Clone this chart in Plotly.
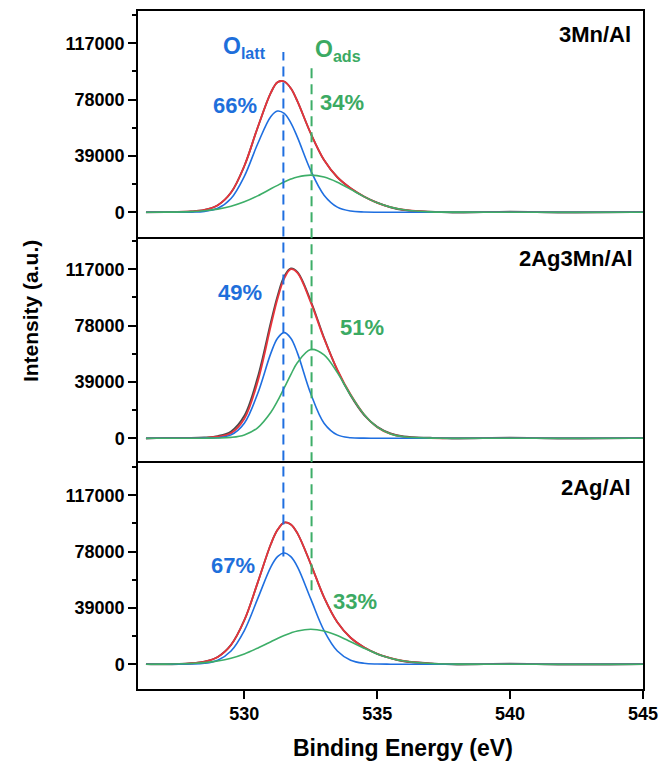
import plotly.graph_objects as go
from plotly.subplots import make_subplots

# ---------------- data ----------------
binding_energy = [526.3, 527, 528, 528.5, 529, 529.5, 530, 530.5, 531, 531.25, 531.5, 531.75,
                  532, 532.5, 533, 533.5, 534, 534.5, 535, 535.5, 536, 537, 538, 540, 542, 545]

# panel 1: 3Mn/Al
raw_3Mn = [-150, 100, 520, 1560, 4800, 13600, 32000, 58500, 82800, 90000, 90500, 85800,
           76700, 54500, 36100, 24200, 16600, 10900, 6600, 3400, 1500, 400, -300, 350, -250, 200]
fit_3Mn = [5, 54, 500, 1540, 4780, 13590, 31970, 58500, 82800, 90000, 90500, 85800,
           76700, 54500, 36100, 24230, 16580, 10925, 6500, 3500, 1700, 250, 30, 0, 0, 0]
olatt_3Mn = [0, 0, 84, 555, 2670, 9500, 24800, 47200, 66300, 70050, 68400, 61900,
             51800, 28800, 11800, 3530, 780, 125, 0, 0, 0, 0, 0, 0, 0, 0]
oads_3Mn = [5, 54, 415, 985, 2110, 4090, 7170, 11300, 16200, 18600, 20900, 22900,
            24400, 25700, 24300, 20700, 15800, 10800, 6500, 3500, 1700, 250, 30, 0, 0, 0]

# panel 2: 2Ag3Mn/Al
raw_2Ag3Mn = [-300, 200, 150, 500, 1500, 4700, 15500, 42000, 80500, 98500, 112000, 117500,
              115000, 95000, 69500, 47000, 29500, 16200, 8000, 3400, 1300, 300, -250, 300, -300, 200]
fit_2Ag3Mn = [0, 0, 40, 200, 1000, 3500, 13500, 39000, 78000, 96500, 110500, 117000,
              114500, 94000, 69000, 47500, 30200, 16600, 7640, 2970, 965, 60, 0, 0, 0, 0]
olatt_2Ag3Mn = [0, 0, 0, 30, 330, 2290, 10400, 30800, 58900, 69200, 73100, 69200,
                58900, 30800, 10400, 2290, 330, 30, 0, 0, 0, 0, 0, 0, 0, 0]
oads_2Ag3Mn = [0, 0, 0, 16, 105, 555, 2270, 7230, 18000, 25800, 34800, 44000,
               52400, 61400, 57700, 45400, 29900, 16600, 7640, 2970, 965, 60, 0, 0, 0, 0]

# panel 3: 2Ag/Al
raw_2Ag = [150, -100, 650, 1750, 5050, 13350, 30450, 56300, 83200, 93000, 98000, 96800,
           90600, 69350, 46300, 29060, 18330, 11800, 7200, 4250, 2050, 600, -200, 300, -300, 150]
fit_2Ag = [6, 66, 573, 1700, 4990, 13320, 30430, 56300, 83200, 93000, 98000, 96800,
           90600, 69350, 46300, 29060, 18330, 11740, 7240, 4175, 2210, 460, 66, 0, 0, 0]
olatt_2Ag = [0, 0, 113, 640, 2780, 9160, 23300, 45200, 67400, 74450, 77000, 74450,
             67400, 45200, 23300, 9160, 2780, 640, 113, 15, 0, 0, 0, 0, 0, 0]
oads_2Ag = [6, 66, 460, 1060, 2210, 4160, 7130, 11100, 15550, 17800, 19900, 21630,
            23000, 24150, 23000, 19900, 15550, 11100, 7130, 4160, 2210, 460, 66, 0, 0, 0]

sample_names = ["3Mn/Al", "2Ag3Mn/Al", "2Ag/Al"]
olatt_percent = ["66%", "49%", "67%"]
oads_percent = ["34%", "51%", "33%"]
peak_positions = [531.47, 532.53]  # O_latt, O_ads reference lines

y_tickvals = [0, 39000, 78000, 117000]
y_ticktext = ["0", "39000", "78000", "117000"]
y_minor = [19500, 58500, 97500, 136500]
x_tickvals = [530, 535, 540, 545]
x_ticktext = ["530", "535", "540", "545"]

# ---------------- styling ----------------
FONT = "Liberation Sans, Arial, sans-serif"
BLUE = "#1F6FE0"
GREEN = "#3DAE68"
RED = "#E8333B"
GRAY = "#4a4a4a"
BLUE_T = "#1E6FDB"
GREEN_T = "#3BAA63"

W, H = 669, 769
OFF = 8  # page body margin
ML, MR, MT, MB = 130, 34, 1, 88
PW, PH = W - ML - MR, H - MT - MB


def px(xp):
    return (xp - OFF - ML) / PW


def py(yp):
    return (H - MB - (yp - OFF)) / PH


fig = make_subplots(rows=3, cols=1, shared_xaxes=True, vertical_spacing=0)

panels = [
    (raw_3Mn, fit_3Mn, olatt_3Mn, oads_3Mn),
    (raw_2Ag3Mn, fit_2Ag3Mn, olatt_2Ag3Mn, oads_2Ag3Mn),
    (raw_2Ag, fit_2Ag, olatt_2Ag, oads_2Ag),
]

for i, (raw, fit, olatt, oads) in enumerate(panels):
    r = i + 1
    for ys, col, w in [(raw, GRAY, 1.8), (fit, RED, 1.8), (olatt, BLUE, 1.6), (oads, GREEN, 1.6)]:
        fig.add_trace(go.Scatter(x=binding_energy, y=ys, mode="lines",
                                 line=dict(color=col, width=w, shape="spline", smoothing=1.0),
                                 showlegend=False, hoverinfo="skip"), row=r, col=1)

tickfont = dict(family=FONT, size=18, color="black", weight="bold")

for r in range(1, 4):
    fig.update_yaxes(row=r, col=1, range=[-17170, 139300], tickmode="array",
                     tickvals=y_tickvals, ticktext=y_ticktext, ticks="outside",
                     ticklen=8, tickwidth=1.5, tickcolor="black",
                     minor=dict(tickmode="array", tickvals=y_minor, ticks="outside",
                                ticklen=4, tickwidth=1.5, tickcolor="black", showgrid=False),
                     showline=True, mirror=True, linecolor="black", linewidth=1.5,
                     showgrid=False, zeroline=False, tickfont=tickfont)
    fig.update_xaxes(row=r, col=1, range=[526, 545], showline=(r != 2), mirror=True,
                     linecolor="black", linewidth=1.5, showgrid=False, zeroline=False)

fig.update_xaxes(row=3, col=1, tickmode="array", tickvals=x_tickvals, ticktext=x_ticktext,
                 ticks="outside", ticklen=8, tickwidth=1.5, tickcolor="black",
                 tickfont=tickfont, showticklabels=True)
fig.update_xaxes(row=1, col=1, ticks="", showticklabels=False)
fig.update_xaxes(row=2, col=1, ticks="", showticklabels=False)

# dashed reference lines spanning the panels
fig.add_shape(type="line", xref="x3", yref="paper", x0=peak_positions[0], x1=peak_positions[0],
              y0=py(556), y1=py(50), line=dict(color=BLUE, width=2, dash="10px,6px"))
fig.add_shape(type="line", xref="x3", yref="paper", x0=peak_positions[1], x1=peak_positions[1],
              y0=py(590), y1=py(63), line=dict(color=GREEN, width=2, dash="10px,6px"))


def label(s, c, x, y, xa="center", size=22):
    return dict(text=s, x=x, y=y, xref="paper", yref="paper", xanchor=xa, yanchor="middle",
                showarrow=False, font=dict(family=FONT, size=size, color=c, weight="bold"))


ann = [label("O<sub>latt</sub>", BLUE_T, px(244), py(46), size=23),
       label("O<sub>ads</sub>", GREEN_T, px(338), py(49), size=23)]

pct_pos_latt = [(235, 104), (240, 291), (233, 565)]
pct_pos_ads = [(342, 101), (362, 326), (355, 601)]
name_pos = [(633, 33), (635, 257), (633, 487)]
for i in range(3):
    ann.append(label(olatt_percent[i], BLUE_T, px(pct_pos_latt[i][0]), py(pct_pos_latt[i][1])))
    ann.append(label(oads_percent[i], GREEN_T, px(pct_pos_ads[i][0]), py(pct_pos_ads[i][1])))
    ann.append(label(sample_names[i], "black", px(name_pos[i][0]), py(name_pos[i][1]), "right"))

ann.append(label("Binding Energy (eV)", "black", px(403), py(748), size=23))
yt = label("Intensity (a.u.)", "black", px(30), py(310), size=21)
yt["textangle"] = -90
ann.append(yt)

fig.update_layout(width=W, height=H, margin=dict(l=ML, r=MR, t=MT, b=MB),
                  plot_bgcolor="white", paper_bgcolor="white", annotations=ann,
                  showlegend=False)

fig.write_html("out.html")
